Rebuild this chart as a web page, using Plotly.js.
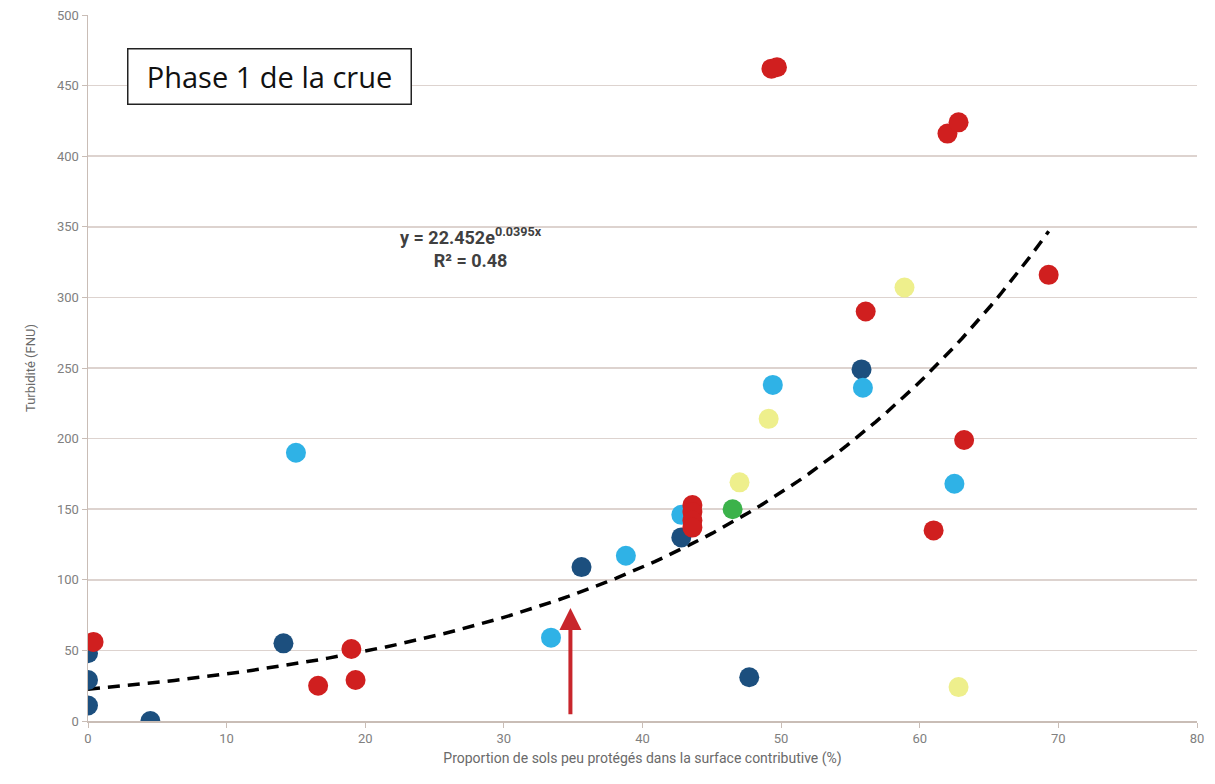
<!DOCTYPE html>
<html><head><meta charset="utf-8">
<script src="https://cdn.plot.ly/plotly-3.0.1.min.js"></script>
<style>html,body{margin:0;padding:0;background:#fff}#c{width:1215px;height:784px}</style>
</head><body><div id="c"></div>
<script>
// Data
const darkBlueX = [0, 0, 0, 4.5, 14.1, 35.6, 42.8, 47.7, 55.8];
const darkBlueY = [48, 29, 11, 0, 55, 109, 130, 31, 249];
const lightBlueX = [15.0, 33.4, 38.8, 42.8, 49.4, 55.9, 62.5];
const lightBlueY = [190, 59, 117, 146, 238, 236, 168];
const redX = [0.4, 16.6, 19.0, 19.3, 43.6, 43.6, 43.6, 43.6, 49.3, 49.7, 62.0, 62.8, 56.1, 63.2, 61.0, 69.3];
const redY = [56, 25, 51, 29, 153, 148, 142, 137, 462, 463, 416, 424, 290, 199, 135, 316];
const yellowX = [58.9, 49.1, 47.0, 62.8];
const yellowY = [307, 214, 169, 24];
const greenX = [46.5];
const greenY = [150];
// Exponential trend printed on the chart: y = 22.452 e^(0.0395x), drawn from x=0 to 69.3
const trendA = 22.452, trendB = 0.0395, trendXmin = 0, trendXmax = 69.3;
const xTicks = [0,10,20,30,40,50,60,70,80];
const yTicks = [0,50,100,150,200,250,300,350,400,450,500];

const trendX = [], trendY = [];
for (let i = 0; i <= 100; i++) {
  const x = trendXmin + (trendXmax - trendXmin) * i / 100;
  trendX.push(x); trendY.push(trendA * Math.exp(trendB * x));
}
const mk = (c) => ({size: 20, color: c, line: {width: 0}});
const traces = [
  {x: trendX, y: trendY, mode: 'lines', line: {color: '#000', width: 3.5, dash: '12px,8px'}, hoverinfo: 'skip'},
  {x: darkBlueX, y: darkBlueY, mode: 'markers', marker: mk('#1c4f7e')},
  {x: lightBlueX, y: lightBlueY, mode: 'markers', marker: mk('#2fb2e6')},
  {x: yellowX, y: yellowY, mode: 'markers', marker: mk('#eeef8c')},
  {x: greenX, y: greenY, mode: 'markers', marker: mk('#3bb24a')},
  {x: redX, y: redY, mode: 'markers', marker: mk('#d01f1f')}
];
const fam = 'Liberation Sans Narrow, Roboto, sans-serif';
const tickFont = {family: fam, size: 13, color: '#808080'};
const layout = {
  width: 1215, height: 784,
  margin: {l: 88, r: 18, t: 15, b: 63},
  paper_bgcolor: '#fff', plot_bgcolor: '#fff',
  showlegend: false,
  xaxis: {range: [0, 80], tickvals: xTicks, showgrid: false, zeroline: false,
    showline: true, linecolor: '#c9bdb6', linewidth: 1.5, ticks: 'outside', ticklen: 5, tickcolor: '#c9bdb6',
    tickfont: tickFont,
    title: {text: 'Proportion de sols peu protégés dans la surface contributive (%)', font: {family: fam, size: 14, color: '#6a6a6a'}, standoff: 8}},
  yaxis: {range: [0, 500], tickvals: yTicks, showgrid: true, gridcolor: '#ddd3cf', gridwidth: 1.5, zeroline: false,
    showline: true, linecolor: '#c9bdb6', linewidth: 1.5, ticks: 'outside', ticklen: 5, tickcolor: '#c9bdb6',
    tickfont: tickFont,
    title: {text: 'Turbidité (FNU)', font: {family: fam, size: 13, color: '#6a6a6a'}, standoff: 18}},
  annotations: [
    {xref: 'paper', yref: 'paper', x: 0.1635, y: 0.913, xanchor: 'center', yanchor: 'middle',
     text: 'Phase 1 de la crue', showarrow: false,
     font: {family: 'Open Sans, sans-serif', size: 29, color: '#111'}, bordercolor: '#222', borderwidth: 1.5,
     borderpad: 6, bgcolor: '#fff', width: 270, height: 42},
    {xref: 'x', yref: 'y', x: 27.6, y: 335, xanchor: 'center', yanchor: 'middle',
     text: '<b>y = 22.452e<sup>0.0395x</sup></b><br><b>R² = 0.48</b>', showarrow: false,
     font: {family: fam, size: 18, color: '#404040'}, align: 'center'},
    {xref: 'x', yref: 'y', axref: 'x', ayref: 'y', x: 34.8, y: 80, ax: 34.8, ay: 2, showarrow: true,
     arrowhead: 2, arrowsize: 1.1, arrowwidth: 4, arrowcolor: '#c8262c', text: ' ', font: {size: 4}}
  ]
};
Plotly.newPlot('c', traces, layout, {displayModeBar: false, staticPlot: true});
</script></body></html>
